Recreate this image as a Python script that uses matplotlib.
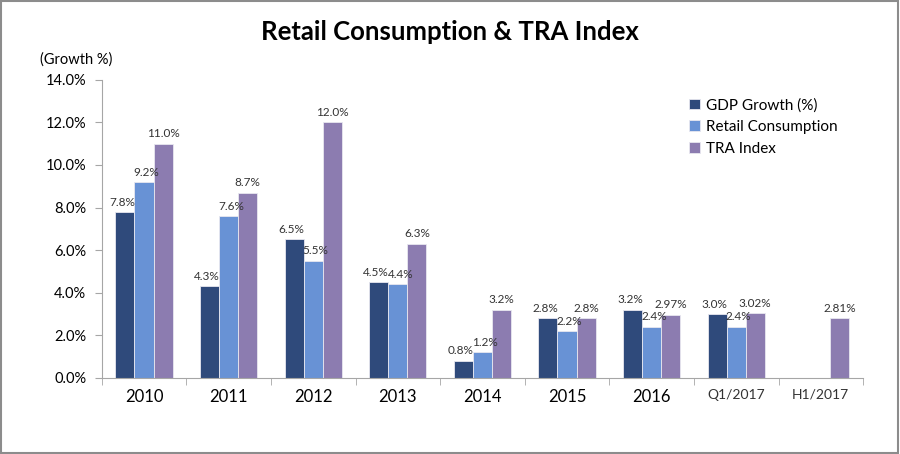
import numpy as np
import matplotlib.pyplot as plt
from matplotlib.patches import Rectangle

categories = ['2010', '2011', '2012', '2013', '2014', '2015', '2016', 'Q1/2017', 'H1/2017']
gdp = [7.8, 4.3, 6.5, 4.5, 0.8, 2.8, 3.2, 3.0, None]
retail = [9.2, 7.6, 5.5, 4.4, 1.2, 2.2, 2.4, 2.4, None]
tra = [11.0, 8.7, 12.0, 6.3, 3.2, 2.8, 2.97, 3.02, 2.81]
tra_labels = ['11.0%', '8.7%', '12.0%', '6.3%', '3.2%', '2.8%', '2.97%', '3.02%', '2.81%']


def main():
    plt.rcParams['font.family'] = ['Lato', 'DejaVu Sans']
    fig = plt.figure(figsize=(9, 4.54), dpi=100)
    ax = fig.add_axes([0.113, 0.168, 0.846, 0.656])

    x = np.arange(len(categories))
    w = 0.225
    # (name, values, colour, bar offset, label nudge, label texts)
    series = [
        ('GDP Growth (%)', gdp, '#2F4A7B', -w, -0.03, None),
        ('Retail Consumption', retail, '#6892D5', 0, 0.03, None),
        ('TRA Index', tra, '#8C7CB0', w, 0, tra_labels),
    ]
    for name, vals, color, off, nudge, labels in series:
        xs = [xi + off for xi, v in zip(x, vals) if v is not None]
        vs = [v for v in vals if v is not None]
        ax.bar(xs, vs, width=w, color=color, edgecolor='#E8E8F0', linewidth=0.6, label=name)
        for i, (xi, v) in enumerate(zip(x, vals)):
            if v is None:
                continue
            txt = labels[i] if labels else f'{v:.1f}%'
            ax.text(xi + off + nudge, v + 0.2, txt, ha='center', va='bottom',
                    fontsize=8.5, color='#333333')

    ax.set_xlim(-0.5, len(categories) - 0.5)
    ax.set_ylim(0, 14)
    ax.set_yticks(np.arange(0, 14.1, 2))
    ax.set_yticklabels([f'{t:.1f}%' for t in np.arange(0, 14.1, 2)], fontsize=10.5)
    ax.set_xticks(x)
    ax.set_xticklabels(categories)
    for i, lab in enumerate(ax.get_xticklabels()):
        if i < 7:
            lab.set_fontsize(12)
            lab.set_color('black')
        else:
            lab.set_fontsize(10)
            lab.set_color('#333333')
    ax.tick_params(axis='x', length=0, pad=8)
    ax.set_xticks(np.arange(-0.5, len(categories), 1), minor=True)
    ax.tick_params(axis='x', which='minor', length=5, color='#A6A6A6')
    ax.tick_params(axis='y', length=5, color='#A6A6A6', pad=6)

    for s in ['top', 'right']:
        ax.spines[s].set_visible(False)
    ax.spines['left'].set_color('#A6A6A6')
    ax.spines['bottom'].set_color('#A6A6A6')

    ax.legend(loc='upper right', bbox_to_anchor=(0.985, 0.985), frameon=False, fontsize=11,
              handlelength=0.7, handleheight=0.7, handletextpad=0.4, labelspacing=0.5)

    fig.text(0.5, 0.93, 'Retail Consumption & TRA Index', ha='center', va='center',
             fontsize=18.5, fontweight='bold')
    fig.text(0.045, 0.868, '(Growth %)', ha='left', va='center', fontsize=10.5)

    fig.patches.append(Rectangle((0.001, 0.002), 0.997, 0.995, transform=fig.transFigure,
                                 fill=False, edgecolor='#8C8C8C', linewidth=1.5))

    fig.savefig('out.png', dpi=100)


if __name__ == '__main__':
    main()
